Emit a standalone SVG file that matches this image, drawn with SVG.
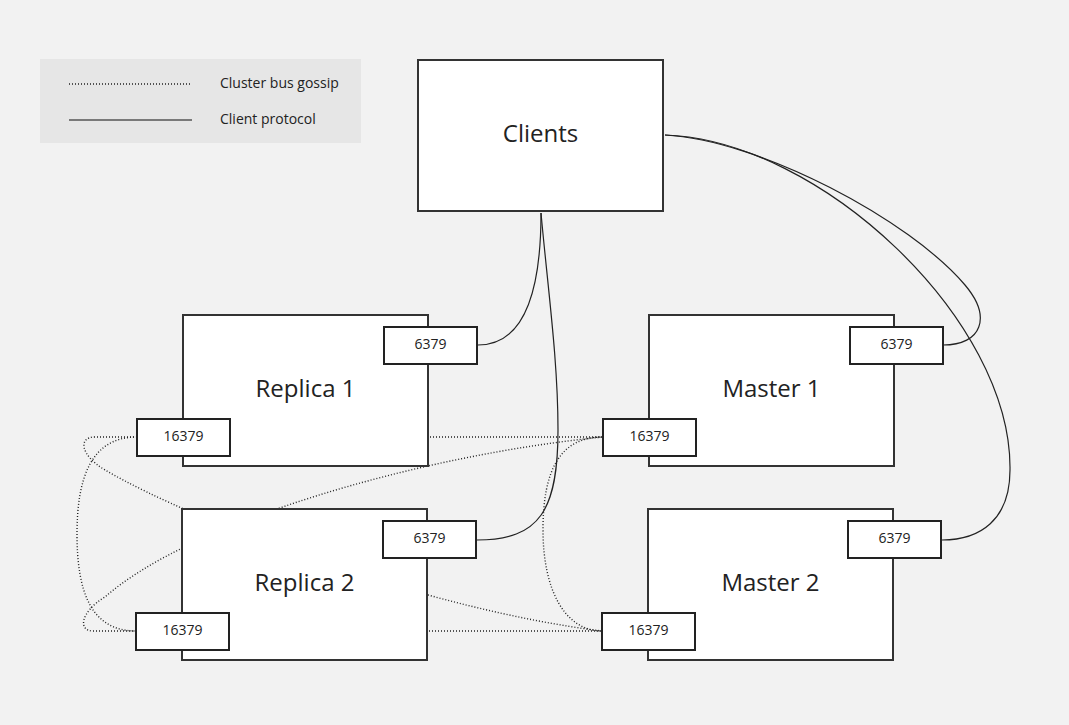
<svg xmlns="http://www.w3.org/2000/svg" width="1069" height="725" viewBox="0 0 1069 725">
<style>
.node{fill:#ffffff;stroke:#333333;stroke-width:2}
.port{fill:#ffffff;stroke:#222222;stroke-width:2}
.big{font-family:"Open Sans","Noto Sans",sans-serif;font-size:24px;fill:#222222;text-anchor:middle}
.small{font-family:"Open Sans","Noto Sans",sans-serif;font-size:14px;fill:#222222;text-anchor:middle}
.leg{font-family:"Open Sans","Noto Sans",sans-serif;font-size:14px;fill:#222222}
.gossip{fill:none;stroke:#222222;stroke-width:1.4;stroke-dasharray:1 2}
.client{fill:none;stroke:#222222;stroke-width:1.2}
</style>
<rect x="0" y="0" width="1069" height="725" fill="#f2f2f2"/>
<g id="legend">
<rect x="40" y="59" width="321" height="84" fill="#e6e6e6"/>
<line x1="69" y1="84" x2="190" y2="84" class="gossip" stroke="#555"/>
<line x1="69" y1="120" x2="192" y2="120" stroke="#555555" stroke-width="1.3"/>
<text x="220" y="88" class="leg">Cluster bus gossip</text>
<text x="220" y="124" class="leg">Client protocol</text>
</g>
<g id="connectors">
<path class="gossip" d="M184,437 L603,437"/>
<path class="gossip" d="M183,631 L602,631"/>
<path class="gossip" d="M137,437 C90,437 77,480 77,534 C77,590 90,631 136,631"/>
<path class="gossip" d="M137,437 L95,437 C78,437 80,455 105,470 C200,525 430,610 602,631"/>
<path class="gossip" d="M136,631 L93,631 C78,631 80,612 105,597 C190,522 420,455 603,437"/>
<path class="gossip" d="M603,437 C560,437 543,470 543,530 C543,590 565,631 602,631"/>
<path class="client" d="M541,213 C541,300 520,345 478,345"/>
<path class="client" d="M541,213 C548,290 558,360 558,430 C558,510 540,540 477,540"/>
<path class="client" d="M665,135 C760,140 910,220 965,285 C992,317 982,345 943,345"/>
<path class="client" d="M665,135 C820,140 1012,320 1010,470 C1010,520 980,540 942,540"/>
</g>
<g id="clients">
<rect class="node" x="418" y="60" width="245" height="151"/>
<text class="big" x="540.5" y="142">Clients</text>
</g>
<g id="replica1">
<rect class="node" x="183" y="315" width="245" height="151"/>
<text class="big" x="305.5" y="397">Replica 1</text>
<rect class="port" x="384" y="327" width="93" height="37"/>
<text class="small" x="430.5" y="349">6379</text>
<rect class="port" x="137" y="419" width="93" height="37"/>
<text class="small" x="183.5" y="441">16379</text>
</g>
<g id="master1">
<rect class="node" x="649" y="315" width="245" height="151"/>
<text class="big" x="771.5" y="397">Master 1</text>
<rect class="port" x="850" y="327" width="93" height="37"/>
<text class="small" x="896.5" y="349">6379</text>
<rect class="port" x="603" y="419" width="93" height="37"/>
<text class="small" x="649.5" y="441">16379</text>
</g>
<g id="replica2">
<rect class="node" x="182" y="509" width="245" height="151"/>
<text class="big" x="304.5" y="591">Replica 2</text>
<rect class="port" x="383" y="521" width="93" height="37"/>
<text class="small" x="429.5" y="543">6379</text>
<rect class="port" x="136" y="613" width="93" height="37"/>
<text class="small" x="182.5" y="635">16379</text>
</g>
<g id="master2">
<rect class="node" x="648" y="509" width="245" height="151"/>
<text class="big" x="770.5" y="591">Master 2</text>
<rect class="port" x="848" y="521" width="93" height="37"/>
<text class="small" x="894.5" y="543">6379</text>
<rect class="port" x="602" y="613" width="93" height="37"/>
<text class="small" x="648.5" y="635">16379</text>
</g>
</svg>
